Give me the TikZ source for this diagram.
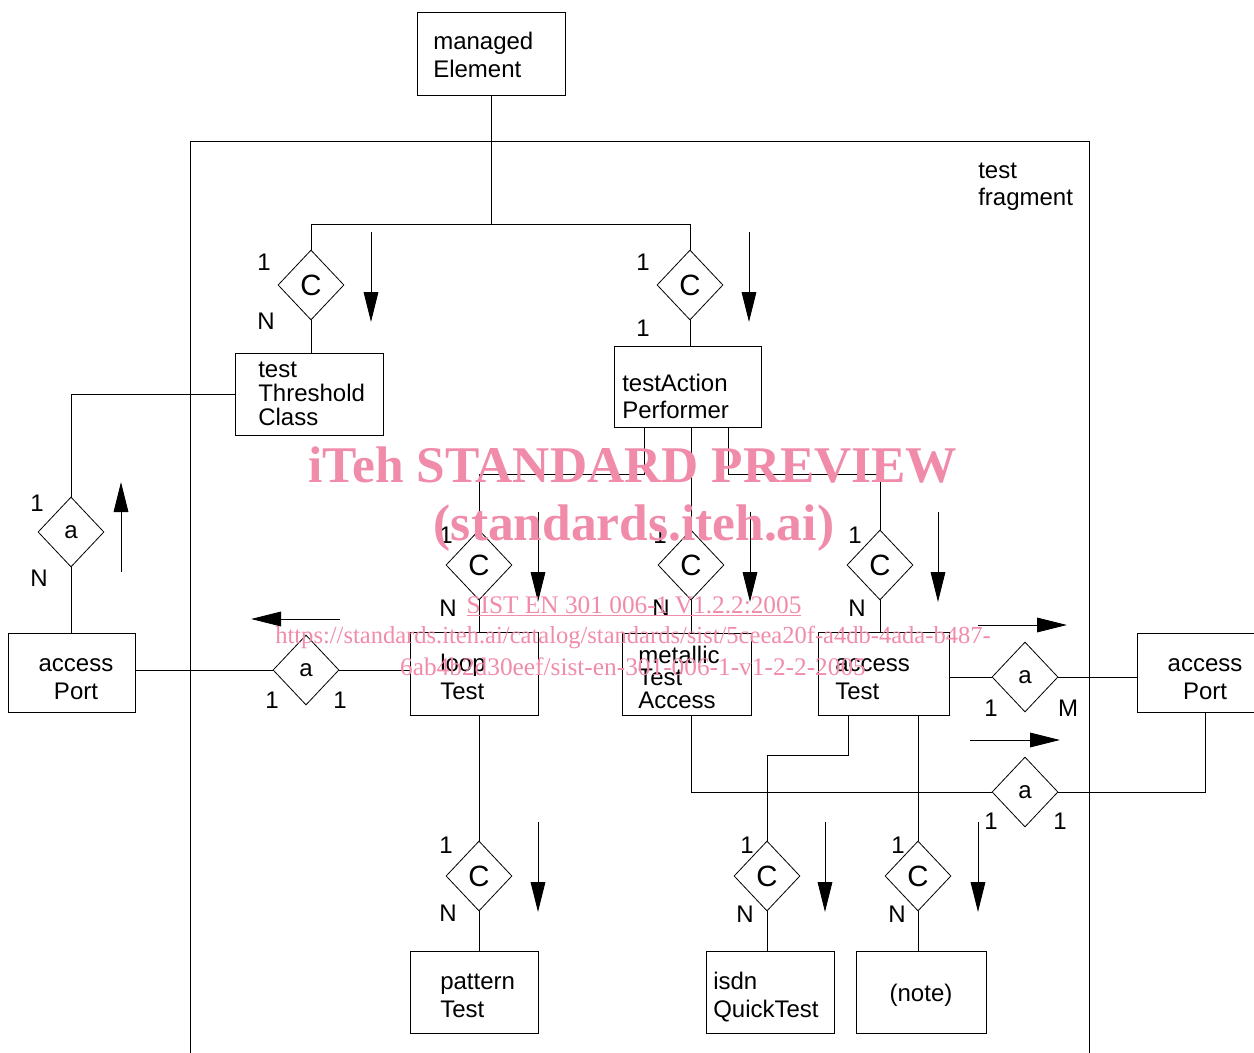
\documentclass[tikz,border=0pt]{standalone}
\usepackage{fontspec}
\setmainfont{Liberation Sans}
\newfontfamily\wmserif{Liberation Serif}
\usetikzlibrary{shapes.geometric,arrows.meta,calc}
\definecolor{wmpink}{RGB}{240,140,170}
\newcommand{\mystrut}{\rule{0pt}{13.5pt}}
\begin{document}
\begin{tikzpicture}[x=0.75pt,y=-0.75pt,
  bx/.style 2 args={draw, line width=0.65pt, inner sep=0pt, minimum width=#1*0.75pt, minimum height=#2*0.75pt},
  tx/.style={anchor=north west, inner sep=0pt, align=left, font=\fontsize{18}{21}\selectfont},
  txc/.style={anchor=north, inner sep=0pt, align=center, font=\fontsize{18}{21}\selectfont},
  lb/.style={inner sep=0pt, font=\fontsize{18}{21}\selectfont},
  dm/.style={draw, diamond, inner sep=0pt, minimum width=49.5pt, minimum height=52.5pt, line width=0.6pt},
  dC/.style={dm, font=\fontsize{22}{24}\selectfont},
  dA/.style={dm, font=\fontsize{18}{21}\selectfont},
  ln/.style={line width=0.65pt},
  dirarr/.style={line width=0.65pt, -{Triangle[length=22.5pt,width=11pt]}},
  wm/.style={text=wmpink, inner sep=0pt, anchor=base}
]
\useasboundingbox (0,0) rectangle (1254,1053);
\clip (0,0) rectangle (1254,1053);

% frame
\draw[ln] (190,1070) -- (190,141) -- (1089,141) -- (1089,1070);

% boxes
\node[bx={148}{83}] (managed) at (491,53.5) {};
\node[bx={148}{82}] (thr) at (309,394) {};
\node[bx={147}{81}] (tap) at (687.5,386.5) {};
\node[bx={128}{83}] (lt) at (474,673.5) {};
\node[bx={129}{82}] (mta) at (686.5,674) {};
\node[bx={131}{83}] (at) at (883.5,673.5) {};
\node[bx={127}{79}] (apL) at (71.5,672.5) {};
\node[bx={136}{79}] (apR) at (1205,672.5) {};
\node[bx={128}{82}] (pt) at (474,992) {};
\node[bx={128}{82}] (iq) at (770,992) {};
\node[bx={130}{82}] (note) at (921,992) {};

% box texts
\node[tx] (tManaged) at (433,31) {\mystrut managed\\Element};
\node[tx, font=\fontsize{18}{20.25}\selectfont] (tFrag) at (978,160) {\mystrut test\\fragment};
\node[tx, font=\fontsize{18}{18}\selectfont] (tThr) at (258,359) {\mystrut test\\Threshold\\Class};
\node[tx, font=\fontsize{18}{20.25}\selectfont] (tTap) at (622,373) {\mystrut testAction\\Performer};
\node[tx] (tLt) at (440,653) {\mystrut loop\\Test};
\node[tx, font=\fontsize{18}{16.9}\selectfont] (tMta) at (638,645) {\mystrut metallic\\Test\\Access};
\node[tx] (tAt) at (835,653) {\mystrut access\\Test};
\node[tx] (tPt) at (440,971) {\mystrut pattern\\Test};
\node[tx] (tIq) at (713,971) {\mystrut isdn\\QuickTest};
\node[txc] (tApL) at (76,653) {\mystrut access\\Port};
\node[txc] (tApR) at (1205,653) {\mystrut access\\Port};
\node[txc] (tNote) at (921,983) {\mystrut (note)};

% diamonds
\node[dC] (cTT) at (311,285) {C};
\node[dC] (cTAP) at (690,285) {C};
\node[dA] (aL) at (71,532) {a};
\node[dA] (aLT) at (306,670) {a};
\node[dC] (cLT) at (479,565) {C};
\node[dC] (cMTA) at (691,565) {C};
\node[dC] (cAT) at (880,565) {C};
\node[dA] (aAT) at (1025,677) {a};
\node[dA] (aMTA) at (1025,792) {a};
\node[dC] (cPT) at (479,876) {C};
\node[dC] (cIQ) at (767,876) {C};
\node[dC] (cN) at (918,876) {C};

% connectors
\draw[ln] (managed.south) -- (managed.south |- 0,224);
\draw[ln] (cTT.north) -- (cTT.north |- 0,224) -- (cTAP.north |- 0,224) -- (cTAP.north);
\draw[ln] (cTT.south) -- (cTT.south |- thr.north);
\draw[ln] (cTAP.south) -- (cTAP.south |- tap.north);
\draw[ln] (thr.west) -| (aL.north);
\draw[ln] (aL.south) -- (apL.north -| aL.south);
\draw[ln] (aLT.west) -- (aLT.west -| apL.east);
\draw[ln] (aLT.east) -- (aLT.east -| lt.west);
\draw[ln] (tap.south west) ++(31,0) -- ++(0,47) -| (cLT.north);
\draw[ln] (cMTA.north) -- (cMTA.north |- tap.south);
\draw[ln] (tap.south east) ++(-33,0) -- ++(0,47) -| (cAT.north);
\draw[ln] (cLT.south) -- (cLT.south |- lt.north);
\draw[ln] (cMTA.south) -- (cMTA.south |- mta.north);
\draw[ln] (cAT.south) -- (cAT.south |- at.north);
\draw[ln] (aAT.west) -- (aAT.west -| at.east);
\draw[ln] (aAT.east) -- (aAT.east -| apR.west);
\draw[ln] (cMTA.south |- mta.south) |- (aMTA.west);
\draw[ln] (aMTA.east) -| (apR.south);
\draw[ln] (cPT.north) -- (cPT.north |- lt.south);
\draw[ln] (at.south west) ++(31,0) -- ++(0,40) -| (cIQ.north);
\draw[ln] (cN.north) -- (cN.north |- at.south);
\draw[ln] (cPT.south) -- (cPT.south |- pt.north);
\draw[ln] (cIQ.south) -- (cIQ.south |- iq.north);
\draw[ln] (cN.south) -- (cN.south |- note.north);

% direction arrows
\draw[dirarr] (371,232) -- (371,322);
\draw[dirarr] (749,232) -- (749,322);
\draw[dirarr] (121,572) -- (121,482);
\draw[dirarr] (340,619) -- (251,619);
\draw[dirarr] (538,512) -- (538,602);
\draw[dirarr] (750,512) -- (750,602);
\draw[dirarr] (938,512) -- (938,602);
\draw[dirarr] (978,625) -- (1067,625);
\draw[dirarr] (970,740) -- (1060,740);
\draw[dirarr] (538,822) -- (538,912);
\draw[dirarr] (825,822) -- (825,912);
\draw[dirarr] (978,822) -- (978,912);

% cardinality labels
\node[lb] (l1) at (264,262) {1};
\node[lb] (l2) at (266,321) {N};
\node[lb] (l3) at (643,262) {1};
\node[lb] (l4) at (643,328) {1};
\node[lb] (l5) at (37,503) {1};
\node[lb] (l6) at (39,578) {N};
\node[lb] (l7) at (272,700) {1};
\node[lb] (l8) at (340,700) {1};
\node[lb] (l9) at (446,535) {1};
\node[lb] (l10) at (448,608) {N};
\node[lb] (l11) at (660,535) {1};
\node[lb] (l12) at (661,608) {N};
\node[lb] (l13) at (855,535) {1};
\node[lb] (l14) at (857,608) {N};
\node[lb] (l15) at (991,708) {1};
\node[lb] (l16) at (1068,708) {M};
\node[lb] (l17) at (991,821) {1};
\node[lb] (l18) at (1060,821) {1};
\node[lb] (l19) at (446,845) {1};
\node[lb] (l20) at (448,913) {N};
\node[lb] (l21) at (747,845) {1};
\node[lb] (l22) at (745,914) {N};
\node[lb] (l23) at (898,845) {1};
\node[lb] (l24) at (897,914) {N};

% watermark
\node[wm, font=\wmserif\bfseries\fontsize{38.6}{40}\selectfont] (wm1) at (633,482) {iTeh STANDARD PREVIEW};
\node[wm, font=\wmserif\bfseries\fontsize{38.6}{40}\selectfont] (wm2) at (634,540) {(standards.iteh.ai)};
\node[wm, font=\wmserif\fontsize{19}{20}\selectfont] (wm3) at (634,613) {\underline{SIST EN 301 006-1 V1.2.2:2005}};
\node[wm, font=\wmserif\fontsize{18.4}{20}\selectfont] (wm4) at (633,643) {https://standards.iteh.ai/catalog/standards/sist/5ceea20f-a4db-4ada-b487-};
\node[wm, font=\wmserif\fontsize{19}{20}\selectfont] (wm5) at (633,675) {6ab4b2d30eef/sist-en-301-006-1-v1-2-2-2005};
\end{tikzpicture}
\end{document}
